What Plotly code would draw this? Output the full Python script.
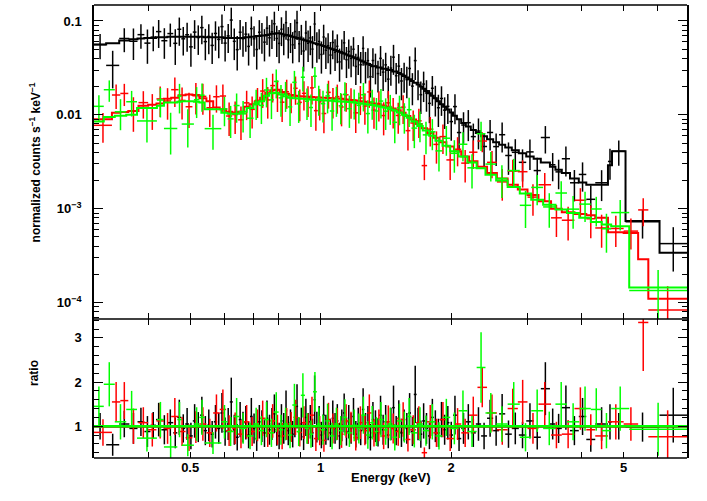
import numpy as np
import plotly.graph_objects as go

# ---------------- data ----------------
# Black dataset: bin edges (keV), model (counts/s/keV), data/model ratio, ratio error
black_edges = [
    0.300, 0.320, 0.343, 0.362, 0.378, 0.392, 0.405, 0.417, 0.429, 0.443,
    0.457, 0.467, 0.477, 0.487, 0.497, 0.507, 0.517, 0.527, 0.537, 0.547,
    0.557, 0.567, 0.577, 0.587, 0.597, 0.607, 0.617, 0.627, 0.637, 0.647,
    0.657, 0.667, 0.677, 0.687, 0.697, 0.707, 0.717, 0.727, 0.737, 0.747,
    0.757, 0.767, 0.777, 0.787, 0.797, 0.807, 0.817, 0.827, 0.837, 0.847,
    0.857, 0.867, 0.877, 0.887, 0.897, 0.908, 0.919, 0.930, 0.941, 0.952,
    0.963, 0.974, 0.986, 0.998, 1.010, 1.022, 1.034, 1.047, 1.060, 1.073,
    1.086, 1.099, 1.112, 1.126, 1.140, 1.154, 1.168, 1.183, 1.198, 1.213,
    1.229, 1.245, 1.261, 1.277, 1.294, 1.311, 1.329, 1.347, 1.365, 1.384,
    1.403, 1.422, 1.442, 1.462, 1.483, 1.504, 1.525, 1.547, 1.569, 1.592,
    1.616, 1.640, 1.665, 1.690, 1.715, 1.741, 1.768, 1.796, 1.824, 1.854,
    1.884, 1.916, 1.948, 1.982, 2.020, 2.062, 2.110, 2.162, 2.220, 2.280,
    2.345, 2.420, 2.500, 2.580, 2.665, 2.760, 2.865, 2.980, 3.100, 3.220,
    3.380, 3.480, 3.600, 3.760, 3.940, 4.100, 4.300, 4.600, 4.700, 5.050,
    6.050, 7.000]
black_model = [
    0.056, 0.058, 0.062, 0.064, 0.065, 0.066, 0.066, 0.067, 0.067, 0.068,
    0.068, 0.068, 0.068, 0.068, 0.068, 0.068, 0.068, 0.068, 0.067, 0.067,
    0.067, 0.067, 0.067, 0.067, 0.066, 0.066, 0.066, 0.066, 0.066, 0.066,
    0.066, 0.067, 0.067, 0.068, 0.068, 0.069, 0.069, 0.070, 0.070, 0.071,
    0.072, 0.073, 0.073, 0.074, 0.074, 0.073, 0.072, 0.071, 0.070, 0.069,
    0.068, 0.067, 0.066, 0.065, 0.064, 0.063, 0.062, 0.061, 0.060, 0.059,
    0.058, 0.057, 0.056, 0.055, 0.054, 0.053, 0.052, 0.051, 0.050, 0.049,
    0.048, 0.047, 0.046, 0.045, 0.044, 0.043, 0.042, 0.041, 0.040, 0.039,
    0.038, 0.037, 0.036, 0.035, 0.034, 0.033, 0.033, 0.032, 0.032, 0.031,
    0.031, 0.030, 0.030, 0.029, 0.029, 0.028, 0.027, 0.026, 0.025, 0.024,
    0.023, 0.022, 0.021, 0.020, 0.019, 0.018, 0.017, 0.016, 0.0150, 0.0140,
    0.0130, 0.0122, 0.0114, 0.0106, 0.0098, 0.0090, 0.0082, 0.0075, 0.0069, 0.0064,
    0.0059, 0.0055, 0.0051, 0.0048, 0.0045, 0.0042, 0.0039, 0.0036, 0.0034, 0.0031,
    0.0028, 0.0026, 0.0024, 0.0021, 0.0019, 0.0018, 0.0018, 0.0029, 0.0041, 0.00074,
    0.00034]
black_ratio = [
    1.00, 0.58, 1.05, 0.95, 1.10, 0.88, 1.02, 1.15, 0.92, 1.08,
    0.85, 1.20, 0.95, 1.05, 0.78, 1.12, 0.98, 1.25, 0.90, 1.02,
    0.82, 1.10, 0.95, 1.30, 0.88, 1.05, 1.55, 0.92, 0.75, 1.15,
    0.98, 1.08, 0.80, 1.22, 0.95, 0.72, 1.10, 1.00, 0.85, 1.18,
    0.92, 1.05, 1.28, 0.88, 0.78, 1.12, 0.95, 1.35, 0.90, 1.02,
    0.82, 1.15, 1.45, 0.88, 1.05, 0.76, 1.20, 0.95, 1.10, 0.85,
    1.60, 0.98, 1.08, 0.80, 1.25, 0.92, 1.05, 0.85, 1.18, 0.95,
    1.12, 0.78, 1.02, 1.30, 0.88, 1.10, 0.95, 1.22, 0.82, 1.05,
    0.90, 1.38, 0.95, 1.08, 0.75, 1.15, 1.00, 0.86, 1.25, 0.92,
    1.10, 0.80, 1.05, 1.42, 0.90, 1.18, 0.85, 1.02, 0.95, 1.30,
    0.88, 1.72, 1.05, 0.82, 1.12, 0.95, 0.78, 1.20, 1.00, 0.85,
    1.15, 0.92, 1.08, 0.80, 1.25, 0.72, 0.95, 1.10, 0.85, 1.05,
    0.78, 1.18, 0.90, 1.28, 0.82, 0.95, 0.80, 1.12, 0.75, 1.85,
    1.05, 0.95, 1.42, 0.90, 1.22, 0.70, 1.05, 1.10, 1.00, 0.98,
    1.25]
black_rerr = [
    0.30, 0.25, 0.30, 0.35, 0.32, 0.35, 0.30, 0.38, 0.33, 0.30,
    0.35, 0.40, 0.32, 0.36, 0.30, 0.38, 0.34, 0.42, 0.33, 0.36,
    0.30, 0.38, 0.35, 0.45, 0.32, 0.36, 0.55, 0.34, 0.30, 0.40,
    0.35, 0.38, 0.30, 0.42, 0.34, 0.28, 0.38, 0.36, 0.32, 0.40,
    0.34, 0.36, 0.44, 0.32, 0.30, 0.38, 0.35, 0.46, 0.33, 0.36,
    0.30, 0.40, 0.50, 0.32, 0.37, 0.30, 0.42, 0.35, 0.38, 0.32,
    0.55, 0.35, 0.38, 0.30, 0.44, 0.34, 0.37, 0.32, 0.40, 0.35,
    0.38, 0.30, 0.36, 0.44, 0.32, 0.38, 0.35, 0.42, 0.30, 0.37,
    0.33, 0.48, 0.35, 0.38, 0.30, 0.40, 0.36, 0.32, 0.44, 0.34,
    0.38, 0.30, 0.37, 0.50, 0.33, 0.41, 0.32, 0.36, 0.35, 0.45,
    0.33, 0.65, 0.37, 0.31, 0.40, 0.35, 0.30, 0.42, 0.36, 0.32,
    0.40, 0.34, 0.38, 0.30, 0.44, 0.28, 0.35, 0.40, 0.32, 0.38,
    0.30, 0.42, 0.34, 0.45, 0.31, 0.36, 0.30, 0.40, 0.28, 0.60,
    0.35, 0.33, 0.50, 0.33, 0.42, 0.28, 0.38, 0.40, 0.30, 0.33,
    0.62]

# Red dataset
red_edges = [
    0.300, 0.330, 0.345, 0.360, 0.380, 0.400, 0.418, 0.435, 0.452, 0.470,
    0.488, 0.506, 0.525, 0.545, 0.565, 0.585, 0.605, 0.625, 0.645, 0.665,
    0.685, 0.705, 0.725, 0.745, 0.765, 0.785, 0.805, 0.825, 0.845, 0.865,
    0.885, 0.905, 0.925, 0.945, 0.965, 0.985, 1.005, 1.030, 1.055, 1.080,
    1.105, 1.130, 1.160, 1.190, 1.220, 1.250, 1.280, 1.310, 1.345, 1.380,
    1.415, 1.450, 1.490, 1.530, 1.570, 1.610, 1.660, 1.710, 1.760, 1.820,
    1.880, 1.950, 2.030, 2.110, 2.200, 2.300, 2.420, 2.550, 2.700, 2.850,
    3.000, 3.180, 3.400, 3.600, 3.850, 4.100, 4.300, 4.600, 5.000, 5.400,
    5.700, 7.000]
red_model = [
    0.0090, 0.0105, 0.0107, 0.0110, 0.0125, 0.0128, 0.0132, 0.0148, 0.0152, 0.0162,
    0.0165, 0.0163, 0.0150, 0.0140, 0.0120, 0.0115, 0.0108, 0.0106, 0.0108, 0.0122,
    0.0130, 0.0140, 0.0152, 0.0172, 0.0183, 0.0185, 0.0175, 0.0168, 0.0163, 0.0160,
    0.0158, 0.0157, 0.0156, 0.0155, 0.0154, 0.0153, 0.0152, 0.0151, 0.0150, 0.0149,
    0.0148, 0.0146, 0.0144, 0.0142, 0.0140, 0.0138, 0.0135, 0.0132, 0.0129, 0.0126,
    0.0122, 0.0117, 0.0112, 0.0105, 0.0097, 0.0089, 0.0080, 0.0072, 0.0064, 0.0057,
    0.0051, 0.0046, 0.0041, 0.0036, 0.0032, 0.0028, 0.0024, 0.0021, 0.0018, 0.0016,
    0.0014, 0.0012, 0.00100, 0.00092, 0.00088, 0.00085, 0.00080, 0.00056, 0.00055, 0.00029,
    0.00011]
red_ratio = [
    0.86, 1.55, 1.58, 1.00, 1.08, 0.92, 1.12, 0.95, 1.22, 0.88,
    0.74, 0.98, 1.05, 0.85, 1.30, 1.38, 0.90, 0.95, 0.82, 1.10,
    0.88, 1.02, 1.18, 0.84, 1.12, 0.92, 0.78, 1.05, 0.98, 1.20,
    0.86, 1.08, 0.95, 1.25, 0.72, 0.90, 0.68, 1.15, 0.95, 1.05,
    0.82, 1.12, 0.98, 0.74, 1.08, 0.90, 1.30, 0.85, 1.02, 0.78,
    1.10, 0.95, 0.88, 1.15, 0.70, 0.92, 1.08, 0.40, 1.10, 0.85,
    1.15, 0.72, 1.05, 0.85, 1.25, 1.88, 1.30, 0.92, 1.40, 1.55,
    0.95, 1.50, 0.80, 0.82, 1.40, 0.92, 0.78, 1.10, 1.05, 3.35,
    0.76]
red_rerr = [
    0.30, 0.45, 0.42, 0.40, 0.35, 0.38, 0.40, 0.35, 0.42, 0.33,
    0.30, 0.36, 0.38, 0.32, 0.42, 0.45, 0.35, 0.36, 0.32, 0.38,
    0.33, 0.36, 0.40, 0.31, 0.38, 0.34, 0.30, 0.36, 0.34, 0.40,
    0.32, 0.37, 0.34, 0.42, 0.28, 0.33, 0.26, 0.38, 0.34, 0.36,
    0.31, 0.38, 0.35, 0.29, 0.37, 0.33, 0.42, 0.31, 0.36, 0.30,
    0.37, 0.34, 0.32, 0.39, 0.27, 0.33, 0.37, 0.12, 0.38, 0.32,
    0.40, 0.28, 0.36, 0.32, 0.42, 0.45, 0.42, 0.34, 0.45, 0.50,
    0.35, 0.50, 0.30, 0.32, 0.48, 0.35, 0.30, 0.40, 0.38, 1.10,
    0.60]

# Green dataset
green_edges = [
    0.300, 0.316, 0.335, 0.356, 0.377, 0.419, 0.435, 0.467, 0.478, 0.510,
    0.525, 0.540, 0.590, 0.610, 0.630, 0.650, 0.675, 0.700, 0.720, 0.740,
    0.760, 0.780, 0.800, 0.820, 0.840, 0.860, 0.880, 0.900, 0.920, 0.940,
    0.960, 0.980, 1.000, 1.025, 1.050, 1.075, 1.100, 1.125, 1.150, 1.180,
    1.210, 1.240, 1.270, 1.300, 1.330, 1.360, 1.395, 1.430, 1.465, 1.500,
    1.540, 1.580, 1.620, 1.670, 1.720, 1.780, 1.840, 1.910, 1.990, 2.080,
    2.180, 2.290, 2.400, 2.540, 2.700, 2.880, 3.060, 3.260, 3.480, 3.700,
    3.950, 4.200, 4.450, 4.680, 5.150, 7.000]
green_model = [
    0.0085, 0.0095, 0.0098, 0.0100, 0.0118, 0.0125, 0.0135, 0.0138, 0.0140, 0.0138,
    0.0135, 0.0115, 0.0105, 0.0103, 0.0103, 0.0108, 0.0118, 0.0130, 0.0140, 0.0160,
    0.0170, 0.0172, 0.0165, 0.0158, 0.0152, 0.0150, 0.0149, 0.0148, 0.0147, 0.0146,
    0.0145, 0.0144, 0.0143, 0.0142, 0.0141, 0.0140, 0.0139, 0.0138, 0.0137, 0.0135,
    0.0133, 0.0131, 0.0129, 0.0127, 0.0125, 0.0122, 0.0119, 0.0115, 0.0111, 0.0106,
    0.0100, 0.0093, 0.0085, 0.0076, 0.0068, 0.0060, 0.0053, 0.0047, 0.0041, 0.0036,
    0.0031, 0.0027, 0.0023, 0.0020, 0.0017, 0.00145, 0.00125, 0.00110, 0.00098, 0.00090,
    0.00080, 0.00072, 0.00068, 0.00065, 0.000145]
green_ratio = [
    1.45, 1.95, 1.10, 1.38, 0.73, 1.15, 0.53, 1.15, 0.57, 1.05,
    1.20, 0.62, 1.10, 0.88, 1.22, 0.95, 0.78, 1.05, 0.90, 1.15,
    0.85, 1.32, 0.92, 1.05, 0.80, 1.48, 0.88, 1.70, 0.95, 0.82,
    1.78, 1.05, 0.92, 1.12, 0.78, 1.05, 0.90, 1.20, 0.85, 1.02,
    0.95, 1.25, 0.80, 1.08, 0.88, 1.15, 0.92, 1.05, 0.75, 1.12,
    0.98, 1.22, 0.85, 1.05, 0.90, 1.10, 0.78, 1.20, 0.95, 1.35,
    0.88, 2.33, 1.30, 1.05, 1.50, 0.75, 1.35, 0.95, 1.50, 1.10,
    1.40, 1.38, 0.90, 1.40, 0.93]
green_rerr = [
    0.45, 0.50, 0.40, 0.42, 0.30, 0.40, 0.25, 0.40, 0.25, 0.38,
    0.40, 0.25, 0.38, 0.33, 0.42, 0.35, 0.30, 0.37, 0.33, 0.40,
    0.32, 0.45, 0.34, 0.37, 0.30, 0.48, 0.33, 0.50, 0.35, 0.31,
    0.45, 0.37, 0.34, 0.39, 0.30, 0.37, 0.33, 0.41, 0.32, 0.36,
    0.34, 0.42, 0.31, 0.38, 0.33, 0.40, 0.34, 0.37, 0.30, 0.39,
    0.35, 0.42, 0.33, 0.38, 0.34, 0.40, 0.31, 0.42, 0.36, 0.46,
    0.35, 0.80, 0.45, 0.40, 0.50, 0.32, 0.48, 0.38, 0.50, 0.42,
    0.50, 0.48, 0.40, 0.50, 0.60]

x_tick_vals = [0.5, 1, 2, 5]
x_tick_text = ["0.5", "1", "2", "5"]
y_tick_vals = [1e-4, 1e-3, 0.01, 0.1]
y_tick_text = ["10<sup>\u22124</sup>", "10<sup>\u22123</sup>", "0.01", "0.1"]
r_tick_vals = [1, 2, 3]
r_tick_text = ["1", "2", "3"]

# ---------------- build ----------------
def prep(edges, model, ratio, rerr):
    e = np.asarray(edges, float)
    m = np.asarray(model, float)
    r = np.asarray(ratio, float)
    s = np.asarray(rerr, float)
    assert len(e) == len(m) + 1 == len(r) + 1 == len(s) + 1
    lo, hi = e[:-1], e[1:]
    xc = np.sqrt(lo * hi)
    return dict(xc=xc, xp=hi - xc, xm=xc - lo, data=m * r, derr=m * s,
                ratio=r, rerr=s, edges=e, model=m)

sets = [
    (prep(black_edges, black_model, black_ratio, black_rerr), "#000000"),
    (prep(red_edges, red_model, red_ratio, red_rerr), "#ff0000"),
    (prep(green_edges, green_model, green_ratio, green_rerr), "#00ff00"),
]

fig = go.Figure()
EW = 1.5
hidden = dict(size=2, opacity=0)
for d, c in sets:
    ex = dict(type="data", symmetric=False, array=d["xp"], arrayminus=d["xm"],
              thickness=EW, width=0, color=c)
    fig.add_trace(go.Scatter(
        x=d["xc"], y=d["data"], mode="markers", marker=dict(color=c, **hidden),
        error_x=ex,
        error_y=dict(type="data", array=d["derr"], thickness=EW, width=0, color=c),
        xaxis="x2", yaxis="y", hoverinfo="skip", showlegend=False))
    fig.add_trace(go.Scatter(
        x=d["edges"], y=np.append(d["model"], d["model"][-1]), mode="lines",
        line=dict(shape="hv", color=c, width=2),
        xaxis="x2", yaxis="y", hoverinfo="skip", showlegend=False))
for d, c in sets:
    ex = dict(type="data", symmetric=False, array=d["xp"], arrayminus=d["xm"],
              thickness=EW, width=0, color=c)
    fig.add_trace(go.Scatter(
        x=d["xc"], y=d["ratio"], mode="markers", marker=dict(color=c, **hidden),
        error_x=ex,
        error_y=dict(type="data", array=d["rerr"], thickness=EW, width=0, color=c),
        xaxis="x", yaxis="y2", hoverinfo="skip", showlegend=False))
for d, c in sets:
    one = d["model"] / d["model"]
    fig.add_trace(go.Scatter(
        x=d["edges"], y=np.append(one, one[-1]), mode="lines",
        line=dict(shape="hv", color=c, width=2.4),
        xaxis="x", yaxis="y2", hoverinfo="skip", showlegend=False))

XR = [np.log10(0.3), np.log10(7.0)]
YR = [np.log10(6.7e-5), np.log10(0.148)]
RR = [0.28, 3.43]
x_minor = [0.4, 0.6, 0.7, 0.8, 0.9, 3, 4, 6]
y_minor = [k * 10.0 ** p for p in range(-5, 0) for k in range(2, 10)]
y_minor = [v for v in y_minor if 6.7e-5 < v < 0.148]
SPLIT = 0.307

FONT = "Liberation Sans, Arial, sans-serif"
tickfont = dict(family=FONT, size=13, color="black", weight="bold")
common = dict(linecolor="black", linewidth=1.5, mirror="ticks",
              ticks="inside", tickcolor="black", tickwidth=1.3, automargin=False,
              showgrid=False, zeroline=False, tickfont=tickfont)
xminor = dict(tickmode="array", tickvals=x_minor, ticks="inside", ticklen=6,
              tickcolor="black", tickwidth=1.3)

frame = [dict(type="line", xref="paper", yref="paper", x0=0, x1=1, y0=yy, y1=yy,
              line=dict(color="black", width=1.5), layer="above")
         for yy in (0, SPLIT, 1)]

fig.update_layout(
    width=707, height=501,
    margin=dict(l=94, r=20, t=5, b=43),
    paper_bgcolor="white", plot_bgcolor="white",
    font=dict(family=FONT, color="black"),
    xaxis=dict(domain=[0, 1], anchor="y2", type="log", range=XR, showline=False,
               tickmode="array", tickvals=x_tick_vals, ticktext=x_tick_text, ticklen=6,
               minor=xminor, **common),
    xaxis2=dict(domain=[0, 1], anchor="y", type="log", range=XR, matches="x",
                showline=False, tickmode="array", tickvals=x_tick_vals, ticklen=6,
                showticklabels=False, minor=xminor, **common),
    yaxis=dict(domain=[SPLIT, 1], anchor="x2", type="log", range=YR, showline=True,
               tickmode="array", tickvals=y_tick_vals, ticktext=y_tick_text, ticklen=9,
               ticklabelstandoff=8,
               minor=dict(tickmode="array", tickvals=y_minor, ticks="inside", ticklen=5,
                          tickcolor="black", tickwidth=1.3),
               **common),
    yaxis2=dict(domain=[0, SPLIT], anchor="x", range=RR, showline=True,
                tickmode="array", tickvals=r_tick_vals, ticktext=r_tick_text, ticklen=9,
                ticklabelstandoff=8,
                minor=dict(dtick=0.2, ticks="inside", ticklen=5, tickcolor="black",
                           tickwidth=1.3),
                **common),
    shapes=frame,
    annotations=[
        dict(text="normalized counts s<sup>\u22121</sup> keV<sup>\u22121</sup>",
             xref="paper", yref="paper", x=-0.116, y=0.653, textangle=-90,
             showarrow=False, font=dict(family=FONT, size=12, color="black", weight="bold")),
        dict(text="ratio", xref="paper", yref="paper", x=-0.116, y=0.155,
             textangle=-90, showarrow=False,
             font=dict(family=FONT, size=12, color="black", weight="bold")),
        dict(text="Energy (keV)", xref="paper", yref="paper", x=0.5, y=-0.064,
             showarrow=False, font=dict(family=FONT, size=13, color="black", weight="bold")),
    ],
)

fig.write_html("out.html", config={"displayModeBar": False},
               post_script="document.body.style.margin='0px';")
